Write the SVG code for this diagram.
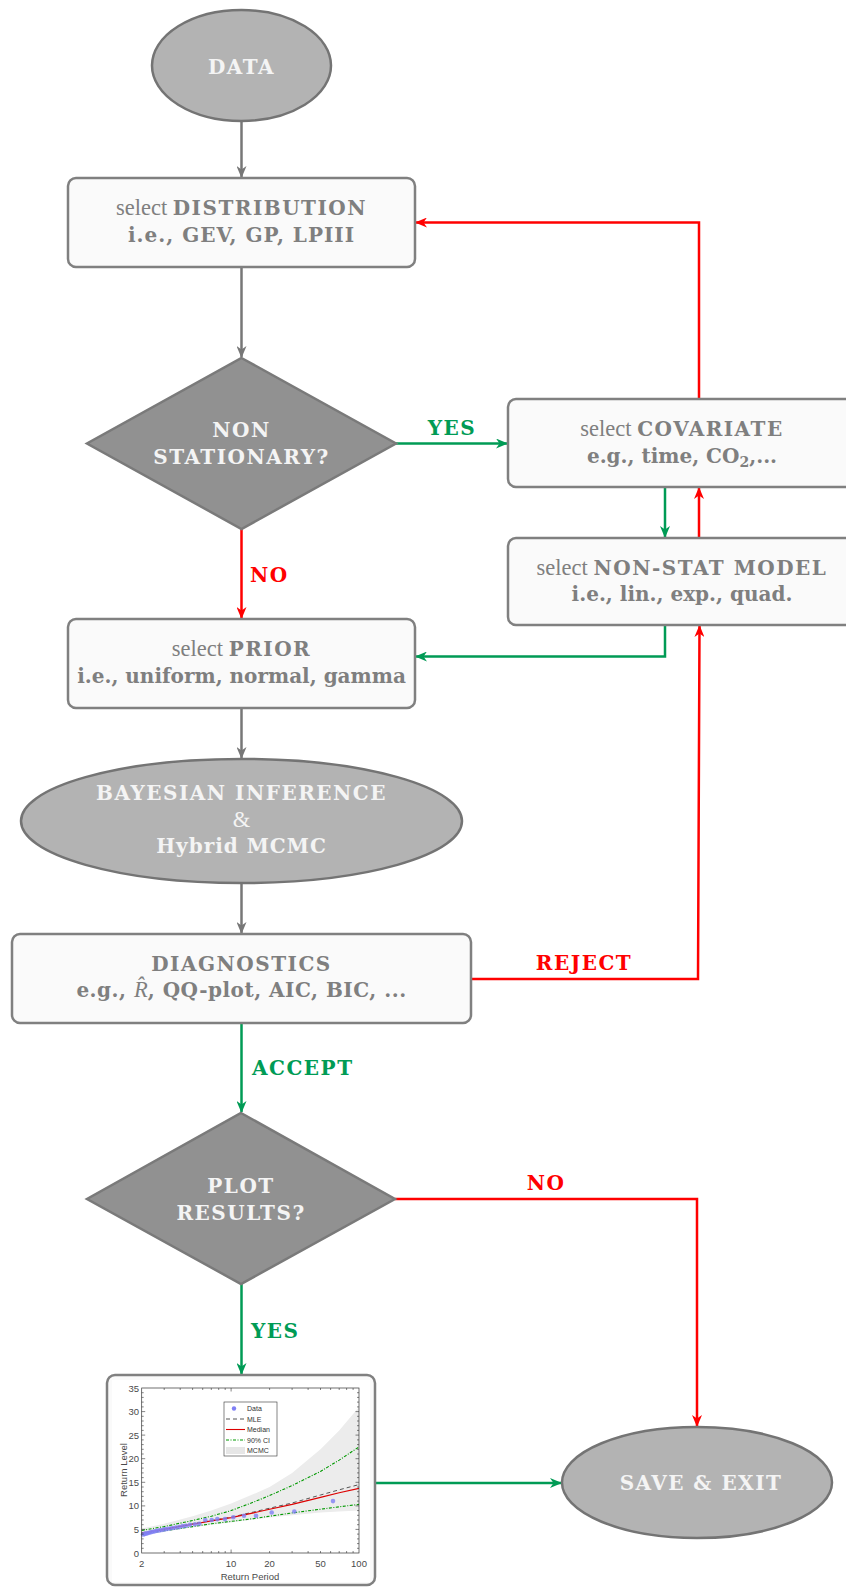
<svg xmlns="http://www.w3.org/2000/svg" width="846" height="1587" viewBox="0 0 846 1587">
<style>
.t{font-family:'DejaVu Serif',serif;font-size:20px;fill:#7f7f7f;text-anchor:middle}
.b{font-weight:bold}
.c{letter-spacing:1.5px}
.r{font-family:'Liberation Serif','DejaVu Serif',serif;font-size:22.5px;font-weight:normal;letter-spacing:0}
.w{fill:#f4f4f4}
.box{fill:#fafafa;stroke:#808080;stroke-width:2.5}
.ell{fill:#b3b3b3;stroke:#747474;stroke-width:2.5}
.dia{fill:#919191;stroke:#7a7a7a;stroke-width:2.5}
.cg{fill:none;stroke:#777777;stroke-width:2.5}
.cgr{fill:none;stroke:#009b55;stroke-width:2.5}
.cr{fill:none;stroke:#ff0000;stroke-width:2.5}
.lg{font-family:'DejaVu Serif',serif;font-size:20px;font-weight:bold;fill:#009b55;letter-spacing:1.5px}
.lr{font-family:'DejaVu Serif',serif;font-size:20px;font-weight:bold;fill:#ff0000;letter-spacing:1.5px}
.ax{font-family:'Liberation Sans',Arial,sans-serif;font-size:9.5px;fill:#4a4a4a}
.leg{font-family:'Liberation Sans',Arial,sans-serif;font-size:7px;fill:#333}
</style>
<defs>
<marker id="ag" viewBox="0 0 12 10" refX="11" refY="5" markerWidth="12" markerHeight="10" markerUnits="userSpaceOnUse" orient="auto"><path d="M0,0 L12,5 L0,10 L3.5,5 z" fill="#777777"/></marker>
<marker id="agr" viewBox="0 0 12 10" refX="11" refY="5" markerWidth="12" markerHeight="10" markerUnits="userSpaceOnUse" orient="auto"><path d="M0,0 L12,5 L0,10 L3.5,5 z" fill="#009b55"/></marker>
<marker id="ar" viewBox="0 0 12 10" refX="11" refY="5" markerWidth="12" markerHeight="10" markerUnits="userSpaceOnUse" orient="auto"><path d="M0,0 L12,5 L0,10 L3.5,5 z" fill="#ff0000"/></marker>
</defs>

<g id="connectors">
<path class="cg" d="M241.5 121V177" marker-end="url(#ag)"/>
<path class="cg" d="M241.5 267V357" marker-end="url(#ag)"/>
<path class="cgr" d="M396 443.5H507" marker-end="url(#agr)"/>
<path class="cr" d="M699 399V222.5H416" marker-end="url(#ar)"/>
<path class="cgr" d="M665 487V537" marker-end="url(#agr)"/>
<path class="cr" d="M699 538V488" marker-end="url(#ar)"/>
<path class="cgr" d="M665 625V656.5H416" marker-end="url(#agr)"/>
<path class="cr" d="M241.5 529V618" marker-end="url(#ar)"/>
<path class="cg" d="M241.5 708V758" marker-end="url(#ag)"/>
<path class="cg" d="M241.5 883V933" marker-end="url(#ag)"/>
<path class="cr" d="M471 979H698L699.5 626" marker-end="url(#ar)"/>
<path class="cgr" d="M241.5 1023V1112" marker-end="url(#agr)"/>
<path class="cr" d="M395 1199H697V1426" marker-end="url(#ar)"/>
<path class="cgr" d="M241.5 1284V1374" marker-end="url(#agr)"/>
<path class="cgr" d="M375 1483H561" marker-end="url(#agr)"/>
<text class="lg" x="452" y="435" text-anchor="middle">YES</text>
<text class="lr" x="250" y="582">NO</text>
<text class="lr" x="584" y="970" text-anchor="middle">REJECT</text>
<text class="lg" x="252" y="1075">ACCEPT</text>
<text class="lr" x="546" y="1190" text-anchor="middle">NO</text>
<text class="lg" x="251" y="1338">YES</text>
</g>

<g id="data">
<ellipse class="ell" cx="241.5" cy="65.5" rx="89.5" ry="55.5"/>
<text class="t b w c" x="241.5" y="74">DATA</text>
</g>

<g id="distribution">
<rect class="box" x="68" y="178" width="347" height="89" rx="8"/>
<text class="t" x="241.5" y="215"><tspan class="r">select </tspan><tspan class="b c">DISTRIBUTION</tspan></text>
<text class="t b" x="241.5" y="242" letter-spacing="1">i.e., GEV, GP, LPIII</text>
</g>

<g id="nonstationary">
<polygon class="dia" points="241.5,358 396,443.5 241.5,529 87,443.5"/>
<text class="t b w c" x="241.5" y="437">NON</text>
<text class="t b w c" x="241.5" y="464">STATIONARY?</text>
</g>

<g id="covariate">
<rect class="box" x="508" y="399" width="360" height="88" rx="8"/>
<text class="t" x="682" y="436"><tspan class="r">select </tspan><tspan class="b c">COVARIATE</tspan></text>
<text class="t b" x="682" y="463">e.g., time, CO<tspan font-size="14" dy="4">2</tspan><tspan dy="-4">,...</tspan></text>
</g>

<g id="nonstat-model">
<rect class="box" x="508" y="538" width="360" height="87" rx="8"/>
<text class="t" x="682" y="575"><tspan class="r">select </tspan><tspan class="b c">NON-STAT MODEL</tspan></text>
<text class="t b" x="682" y="601">i.e., lin., exp., quad.</text>
</g>

<g id="prior">
<rect class="box" x="68" y="619" width="347" height="89" rx="8"/>
<text class="t" x="241.5" y="656"><tspan class="r">select </tspan><tspan class="b c">PRIOR</tspan></text>
<text class="t b" x="241.5" y="683">i.e., uniform, normal, gamma</text>
</g>

<g id="bayesian">
<ellipse class="ell" cx="241.5" cy="821" rx="220.5" ry="62"/>
<text class="t b w c" x="241.5" y="800">BAYESIAN INFERENCE</text>
<text class="t w r" x="241.5" y="827">&amp;</text>
<text class="t b w" x="241.5" y="853" letter-spacing="1">Hybrid MCMC</text>
</g>

<g id="diagnostics">
<rect class="box" x="12" y="934" width="459" height="89" rx="8"/>
<text class="t b c" x="241.5" y="971">DIAGNOSTICS</text>
<text class="t b" x="241.5" y="997" letter-spacing="0.5">e.g., <tspan class="r" font-style="italic">R̂</tspan>, QQ-plot, AIC, BIC, ...</text>
</g>

<g id="plot-results">
<polygon class="dia" points="241,1113 395,1199 241,1284 87,1199"/>
<text class="t b w c" x="241" y="1193">PLOT</text>
<text class="t b w c" x="241" y="1220">RESULTS?</text>
</g>

<g id="plot">
<rect class="box" x="107" y="1375" width="268" height="210" rx="8"/>
<rect x="112" y="1380" width="258" height="202" fill="#ffffff"/>
<path d="M141.7 1528.5 L164.2 1523.8 L192.6 1516.2 L211.3 1510.6 L231.1 1503.5 L253.6 1494.1 L269.6 1487 L292.1 1472.9 L320.5 1449.3 L339.2 1430.4 L359 1406.9 L359 1510.6 L339.2 1511.5 L320.5 1512.5 L292.1 1515.3 L269.6 1517.6 L253.6 1519.5 L231.1 1522.4 L211.3 1524.7 L192.6 1527.5 L164.2 1531.3 L141.7 1535.1 Z" fill="#ececec"/>
<polyline fill="none" stroke="#009900" stroke-width="1.1" stroke-dasharray="3 1.5 1 1.5" points="141.7,1530.4 164.2,1526.6 192.6,1520.5 211.3,1516.2 231.1,1510.6 253.6,1502.1 269.6,1495.5 292.1,1485.6 320.5,1471.4 339.2,1460.1 359,1446.9"/>
<polyline fill="none" stroke="#009900" stroke-width="1.1" stroke-dasharray="3 1.5 1 1.5" points="141.7,1534.1 164.2,1530.8 192.6,1526.6 211.3,1523.8 231.1,1521.4 253.6,1518.6 269.6,1516.2 292.1,1512.9 320.5,1509.2 339.2,1506.8 359,1504.4"/>
<polyline fill="none" stroke="#555555" stroke-width="1" stroke-dasharray="4 3" points="141.7,1532.7 164.2,1529 192.6,1523.8 211.3,1520.5 231.1,1517.2 253.6,1512 269.6,1508.2 292.1,1503 320.5,1495 339.2,1489.8 359,1484.6"/>
<polyline fill="none" stroke="#dd0000" stroke-width="1.1" points="141.7,1533.2 164.2,1529.4 192.6,1524.2 211.3,1520.9 231.1,1517.6 253.6,1512.9 269.6,1509.2 292.1,1504.4 320.5,1497.4 339.2,1492.7 359,1488.4"/>
<g fill="#7f7ff5" fill-opacity="0.8">
<circle cx="333" cy="1501.1" r="2.3"/><circle cx="294.3" cy="1511.5" r="2.3"/><circle cx="271.7" cy="1512.5" r="2.3"/><circle cx="256" cy="1515.8" r="2.3"/><circle cx="244" cy="1515.8" r="2.3"/><circle cx="233.3" cy="1517.2" r="2.3"/><circle cx="225" cy="1519.1" r="2.3"/><circle cx="217.3" cy="1519.1" r="2.3"/><circle cx="211.7" cy="1520" r="2.3"/><circle cx="205.3" cy="1520" r="2.3"/><circle cx="199.3" cy="1523.8" r="2.3"/><circle cx="195" cy="1524.2" r="2.3"/><circle cx="190" cy="1524.7" r="2.3"/><circle cx="186" cy="1525.7" r="2.3"/><circle cx="182.7" cy="1526.1" r="2.3"/><circle cx="179.3" cy="1527.1" r="2.3"/><circle cx="176" cy="1527.5" r="2.3"/><circle cx="173" cy="1528" r="2.3"/><circle cx="170" cy="1528.5" r="2.3"/><circle cx="167" cy="1529" r="2.3"/><circle cx="164.5" cy="1529.4" r="2.3"/><circle cx="162" cy="1530" r="2.3"/><circle cx="159.5" cy="1530.4" r="2.3"/><circle cx="157" cy="1530.8" r="2.3"/><circle cx="155" cy="1531.3" r="2.3"/><circle cx="153" cy="1531.8" r="2.3"/><circle cx="151" cy="1532.2" r="2.3"/><circle cx="149" cy="1532.7" r="2.3"/><circle cx="147.5" cy="1533.2" r="2.3"/><circle cx="146" cy="1533.6" r="2.3"/><circle cx="144.5" cy="1534.1" r="2.3"/><circle cx="143" cy="1534.5" r="2.3"/>
</g>
<rect x="141.7" y="1388" width="217.3" height="165" fill="none" stroke="#333" stroke-width="0.7"/>
<path fill="none" stroke="#333" stroke-width="0.6" d="M141.7 1529.4h3.5M141.7 1505.9h3.5M141.7 1482.3h3.5M141.7 1458.7h3.5M141.7 1435.1h3.5M141.7 1411.6h3.5M359 1529.4h-3.5M359 1505.9h-3.5M359 1482.3h-3.5M359 1458.7h-3.5M359 1435.1h-3.5M359 1411.6h-3.5
M141.7 1548.3h2M141.7 1543.6h2M141.7 1538.9h2M141.7 1534.1h2M141.7 1524.7h2M141.7 1520h2M141.7 1515.3h2M141.7 1510.6h2M141.7 1501.1h2M141.7 1496.4h2M141.7 1491.7h2M141.7 1487h2M141.7 1477.6h2M141.7 1472.9h2M141.7 1468.1h2M141.7 1463.4h2M141.7 1454h2M141.7 1449.3h2M141.7 1444.6h2M141.7 1439.9h2M141.7 1430.4h2M141.7 1425.7h2M141.7 1421h2M141.7 1416.3h2M141.7 1406.9h2M141.7 1402.1h2M141.7 1397.4h2M141.7 1392.7h2
M359 1548.3h-2M359 1543.6h-2M359 1538.9h-2M359 1534.1h-2M359 1524.7h-2M359 1520h-2M359 1515.3h-2M359 1510.6h-2M359 1501.1h-2M359 1496.4h-2M359 1491.7h-2M359 1487h-2M359 1477.6h-2M359 1472.9h-2M359 1468.1h-2M359 1463.4h-2M359 1454h-2M359 1449.3h-2M359 1444.6h-2M359 1439.9h-2M359 1430.4h-2M359 1425.7h-2M359 1421h-2M359 1416.3h-2M359 1406.9h-2M359 1402.1h-2M359 1397.4h-2M359 1392.7h-2
M231.1 1553v-3.5M231.1 1388v3.5M164.2 1553v-2M180.2 1553v-2M192.6 1553v-2M202.7 1553v-2M211.3 1553v-2M218.7 1553v-2M225.2 1553v-2M269.6 1553v-2M292.1 1553v-2M308.1 1553v-2M320.5 1553v-2M330.6 1553v-2M339.2 1553v-2M346.6 1553v-2M353.1 1553v-2
M164.2 1388v2M180.2 1388v2M192.6 1388v2M202.7 1388v2M211.3 1388v2M218.7 1388v2M225.2 1388v2M269.6 1388v2M292.1 1388v2M308.1 1388v2M320.5 1388v2M330.6 1388v2M339.2 1388v2M346.6 1388v2M353.1 1388v2"/>
<g class="ax" text-anchor="end">
<text x="139" y="1556.5">0</text><text x="139" y="1532.9">5</text><text x="139" y="1509.4">10</text><text x="139" y="1485.8">15</text><text x="139" y="1462.2">20</text><text x="139" y="1438.6">25</text><text x="139" y="1415.1">30</text><text x="139" y="1391.5">35</text>
</g>
<g class="ax" text-anchor="middle">
<text x="141.7" y="1567">2</text><text x="231.1" y="1567">10</text><text x="269.6" y="1567">20</text><text x="320.5" y="1567">50</text><text x="359" y="1567">100</text>
<text x="250" y="1580">Return Period</text>
<text transform="translate(127 1470) rotate(-90)">Return Level</text>
</g>
<rect x="224" y="1402" width="53" height="54" fill="#ffffff" stroke="#333" stroke-width="0.6"/>
<circle cx="234" cy="1408.5" r="2.2" fill="#7f7ff5"/>
<line x1="226" y1="1419" x2="245" y2="1419" stroke="#555" stroke-width="1" stroke-dasharray="4 3"/>
<line x1="226" y1="1429.5" x2="245" y2="1429.5" stroke="#dd0000" stroke-width="1.1"/>
<line x1="226" y1="1440" x2="245" y2="1440" stroke="#009900" stroke-width="1.1" stroke-dasharray="3 1.5 1 1.5"/>
<rect x="226" y="1447" width="19" height="7" fill="#e6e6e6"/>
<g class="leg">
<text x="247" y="1411">Data</text><text x="247" y="1421.5">MLE</text><text x="247" y="1432">Median</text><text x="247" y="1442.5">90% CI</text><text x="247" y="1453">MCMC</text>
</g>
</g>

<g id="save-exit">
<ellipse class="ell" cx="697" cy="1482.5" rx="135" ry="55.5"/>
<text class="t b w c" x="701" y="1490">SAVE &amp; EXIT</text>
</g>
</svg>
